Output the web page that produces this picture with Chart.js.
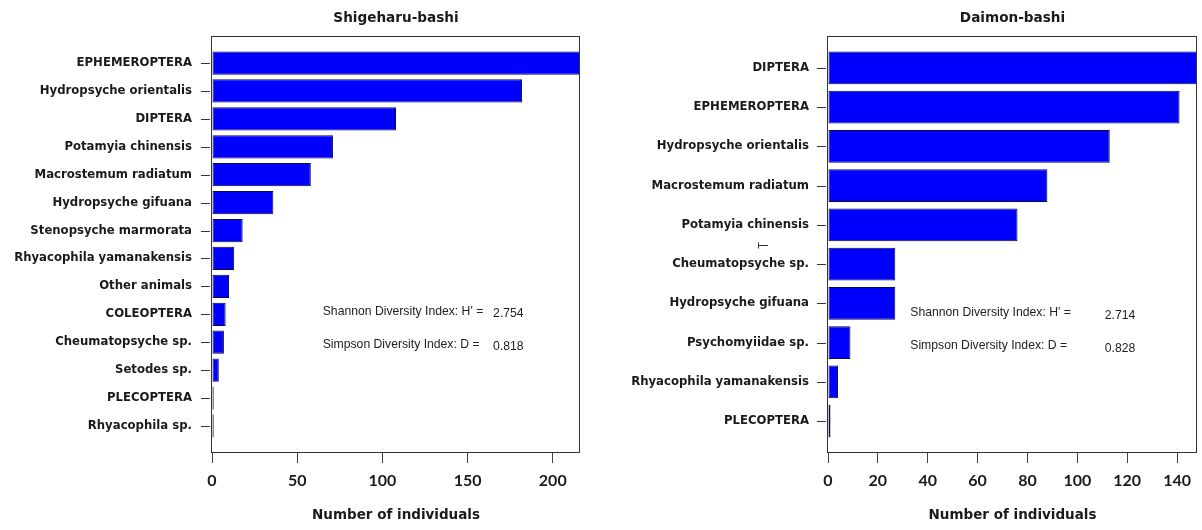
<!DOCTYPE html>
<html>
<head>
<meta charset="utf-8">
<script src="https://cdn.jsdelivr.net/npm/chart.js@4.4.1/dist/chart.umd.min.js"></script>
<style>
  html, body { margin: 0; padding: 0; background: #fff; }
  #wrap { position: relative; width: 1202px; height: 530px; }
  canvas { position: absolute; top: 0; }
  #shigeharu { left: 0; }
  #daimon { left: 601px; }
</style>
</head>
<body>
<div id="wrap">
  <canvas id="shigeharu" width="601" height="530"></canvas>
  <canvas id="daimon" width="601" height="530"></canvas>
</div>
<script>
const shigeharuTaxa = [
  'EPHEMEROPTERA', 'Hydropsyche orientalis', 'DIPTERA', 'Potamyia chinensis',
  'Macrostemum radiatum', 'Hydropsyche gifuana', 'Stenopsyche marmorata',
  'Rhyacophila yamanakensis', 'Other animals', 'COLEOPTERA', 'Cheumatopsyche sp.',
  'Setodes sp.', 'PLECOPTERA', 'Rhyacophila sp.'
];
const shigeharuCounts = [216, 182, 108, 71, 58, 36, 18, 13, 10, 8, 7, 4, 1, 1];
const shigeharuTicks = [0, 50, 100, 150, 200];
const shigeharuIndices = ['2.754', '0.818'];

const daimonTaxa = [
  'DIPTERA', 'EPHEMEROPTERA', 'Hydropsyche orientalis', 'Macrostemum radiatum',
  'Potamyia chinensis', 'Cheumatopsyche sp.', 'Hydropsyche gifuana',
  'Psychomyiidae sp.', 'Rhyacophila yamanakensis', 'PLECOPTERA'
];
const daimonCounts = [148, 141, 113, 88, 76, 27, 27, 9, 4, 1];
const daimonTicks = [0, 20, 40, 60, 80, 100, 120, 140];
const daimonIndices = ['2.714', '0.828'];

const indexLabels = ["Shannon Diversity Index: H' =", 'Simpson Diversity Index: D ='];

const BOLD = '"DejaVu Sans", sans-serif';
const INK = '#1a1a1a';

// box, title, offset y ticks and the diversity index notes
const framePlugin = {
  id: 'frame',
  afterDraw(chart, args, opts) {
    const { ctx, chartArea: a, scales: { x, y } } = chart;
    ctx.save();
    ctx.strokeStyle = '#333';
    ctx.lineWidth = 1;
    const l = Math.round(a.left) - 0.5, t = Math.round(a.top) + 0.5;
    ctx.strokeRect(l, t, Math.round(a.right) - l - 0.5, Math.round(a.bottom) - t - 0.5);

    ctx.beginPath();
    y.ticks.forEach(tk => {
      const py = Math.round(y.getPixelForValue(tk.value)) + 0.5;
      ctx.moveTo(a.left - 11, py);
      ctx.lineTo(a.left - 2, py);
    });
    if (opts.stray) {
      const sx = a.left - 70, sy = Math.round(y.getPixelForValue(opts.stray)) + 0.5;
      ctx.moveTo(sx, sy); ctx.lineTo(sx + 10, sy);
      ctx.moveTo(sx + 0.5, sy - 3); ctx.lineTo(sx + 0.5, sy + 3);
    }
    ctx.stroke();

    ctx.fillStyle = INK;
    ctx.font = 'bold 13.6px ' + BOLD;
    ctx.textAlign = 'center';
    ctx.textBaseline = 'middle';
    ctx.fillText(opts.title, (a.left + a.right) / 2, 18);

    ctx.fillStyle = '#222';
    ctx.font = '12.2px "Liberation Sans", Arial, sans-serif';
    ctx.textAlign = 'left';
    opts.notes.forEach((n, i) => {
      const py = y.getPixelForValue(n.y);
      ctx.fillText(indexLabels[i], x.getPixelForValue(opts.labelX), py);
      ctx.fillText(opts.values[i], x.getPixelForValue(opts.valueX), py + opts.drop);
    });
    ctx.restore();
  }
};

function makeChart(id, title, taxa, counts, ticks, frame, box) {
  const n = taxa.length;
  // bars of width 1 with 0.2 spacing, range widened by 4% as in base graphics,
  // expressed in units of one bar pitch
  const pad = (0.5 + 0.04 * (1.2 * n - 0.2)) / 1.2;
  const lo = 1 - pad, hi = n + pad;
  const positions = taxa.map((t, i) => i + 1);

  return new Chart(document.getElementById(id), {
    type: 'bar',
    data: {
      datasets: [{
        data: counts.map((c, i) => ({ x: c, y: positions[i] })),
        backgroundColor: '#0000ff',
        borderColor: '#0b0b3c',
        borderWidth: 1,
        borderSkipped: false,
        categoryPercentage: 1,
        barPercentage: 1 / 1.2
      }]
    },
    options: {
      indexAxis: 'y',
      responsive: false,
      animation: false,
      layout: { padding: { top: 36, right: box.right, left: 0, bottom: 0 } },
      plugins: {
        legend: { display: false },
        tooltip: { enabled: false },
        frame: Object.assign({ title }, frame)
      },
      scales: {
        x: {
          type: 'linear',
          min: 0,
          max: Math.max(...counts),
          afterBuildTicks: s => { s.ticks = ticks.map(v => ({ value: v })); },
          afterFit: s => { s.height = 77; },
          grid: { drawOnChartArea: false, drawTicks: true, tickLength: 10, color: '#444' },
          border: { display: false },
          ticks: { padding: 8, color: INK, maxRotation: 0, font: { family: 'Lato', weight: 'bold', size: 16 } },
          title: {
            display: true,
            text: 'Number of individuals',
            color: INK,
            font: { family: BOLD, weight: 'bold', size: 13.5 },
            padding: { top: 0, bottom: 6 }
          }
        },
        y: {
          type: 'linear',
          reverse: true,
          offset: false,
          bounds: 'data',
          min: lo,
          max: hi,
          afterBuildTicks: s => {
            s.ticks = positions.map(v => ({ value: v }));
            s.min = lo;
            s.max = hi;
          },
          afterFit: s => { s.width = box.left; },
          grid: { display: false, drawTicks: false, offset: false },
          border: { display: false },
          ticks: {
            padding: box.labelGap,
            color: INK,
            font: { family: BOLD, weight: 'bold', size: 11.7 },
            callback: v => taxa[v - 1]
          }
        }
      }
    },
    plugins: [framePlugin]
  });
}

makeChart('shigeharu', 'Shigeharu-bashi', shigeharuTaxa, shigeharuCounts, shigeharuTicks, {
  values: shigeharuIndices,
  notes: [{ y: 9.92 }, { y: 11.07 }],
  labelX: 65, valueX: 165, drop: 2
}, { left: 212, right: 21, labelGap: 20 });

makeChart('daimon', 'Daimon-bashi', daimonTaxa, daimonCounts, daimonTicks, {
  values: daimonIndices,
  notes: [{ y: 7.23 }, { y: 8.07 }],
  labelX: 33, valueX: 111, drop: 3,
  stray: 5.5
}, { left: 227, right: 5, labelGap: 19 });
</script>
</body>
</html>
